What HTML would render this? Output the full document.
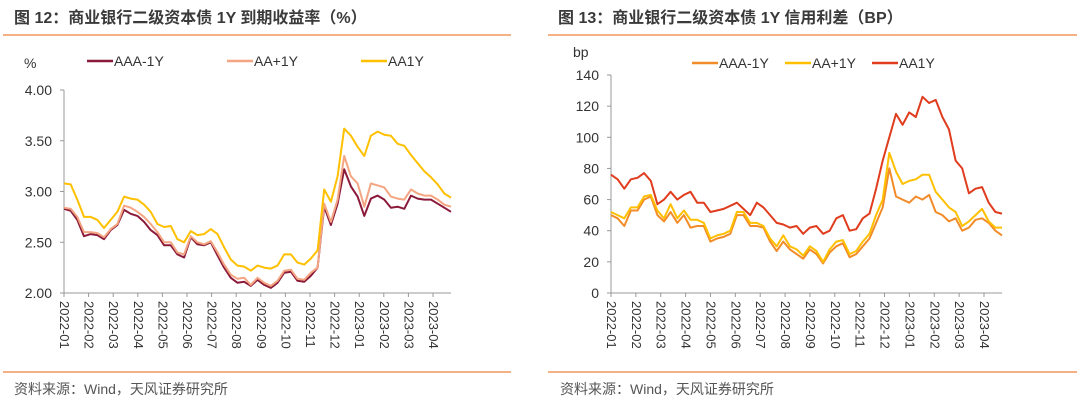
<!DOCTYPE html>
<html><head><meta charset="utf-8"><style>
html,body{margin:0;padding:0;background:#fff;}
body{width:1080px;height:407px;overflow:hidden;font-family:"Liberation Sans","Noto Sans CJK SC",sans-serif;}
svg text{font-family:"Liberation Sans","Noto Sans CJK SC",sans-serif;}
</style></head><body>
<svg id="s" width="1080" height="407" viewBox="0 0 1080 407" xmlns="http://www.w3.org/2000/svg">
<text x="14" y="23" font-size="16" font-weight="bold" fill="#3a3a3a">图 12：商业银行二级资本债 1Y 到期收益率（%）</text>
<text x="558" y="23" font-size="16" font-weight="bold" fill="#3a3a3a">图 13：商业银行二级资本债 1Y 信用利差（BP）</text>
<line x1="3" y1="35" x2="511" y2="35" stroke="#F4B183" stroke-width="2"/>
<line x1="548" y1="35" x2="1077" y2="35" stroke="#F4B183" stroke-width="2"/>
<line x1="3" y1="372" x2="511" y2="372" stroke="#F4B183" stroke-width="2"/>
<line x1="548" y1="372" x2="1077" y2="372" stroke="#F4B183" stroke-width="2"/>
<text x="14" y="394" font-size="14" fill="#555">资料来源：Wind，天风证券研究所</text>
<text x="560" y="394" font-size="14" fill="#555">资料来源：Wind，天风证券研究所</text>
</svg>
<script>
const months=["2022-01","2022-02","2022-03","2022-04","2022-05","2022-06","2022-07","2022-08","2022-09","2022-10","2022-11","2022-12","2023-01","2023-02","2023-03","2023-04"];
const leftTicks=["2.00","2.50","3.00","3.50","4.00"];
const leftTickVals=[2,2.5,3,3.5,4];
const rightTicks=["0","20","40","60","80","100","120","140"];
const rightTickVals=[0,20,40,60,80,100,120,140];
const yAAA=[2.83,2.81,2.72,2.56,2.58,2.57,2.53,2.62,2.67,2.82,2.78,2.76,2.70,2.62,2.57,2.47,2.47,2.38,2.35,2.55,2.48,2.47,2.50,2.37,2.25,2.15,2.10,2.11,2.07,2.13,2.08,2.05,2.10,2.20,2.21,2.12,2.11,2.17,2.25,2.85,2.67,2.88,3.22,3.05,2.95,2.76,2.93,2.96,2.92,2.84,2.85,2.83,2.96,2.93,2.92,2.92,2.88,2.84,2.80];
const yAAp=[2.84,2.83,2.75,2.60,2.60,2.59,2.55,2.63,2.68,2.86,2.84,2.80,2.75,2.68,2.60,2.50,2.50,2.40,2.38,2.56,2.50,2.48,2.51,2.40,2.28,2.18,2.14,2.15,2.08,2.15,2.10,2.07,2.12,2.22,2.23,2.14,2.13,2.20,2.25,2.88,2.70,2.92,3.35,3.15,3.08,2.85,3.08,3.06,3.04,2.95,2.93,2.92,3.02,2.98,2.96,2.96,2.92,2.87,2.85];
const yAA=[3.08,3.07,2.92,2.75,2.75,2.72,2.64,2.72,2.80,2.95,2.93,2.92,2.87,2.80,2.68,2.65,2.66,2.53,2.50,2.61,2.57,2.58,2.63,2.58,2.45,2.33,2.27,2.26,2.22,2.27,2.25,2.24,2.27,2.38,2.38,2.30,2.28,2.34,2.42,3.02,2.90,3.15,3.62,3.55,3.44,3.35,3.55,3.59,3.56,3.55,3.47,3.45,3.36,3.28,3.20,3.14,3.07,2.98,2.94];
const sAAA=[50,48,43,53,53,60,62,50,46,52,45,50,42,43,43,33,35,36,38,50,50,43,43,42,33,27,33,28,25,22,28,25,19,26,30,32,23,25,30,35,45,55,80,62,60,58,62,60,63,52,50,46,48,40,42,47,48,45,40,37];
const sAAp=[52,50,48,55,55,62,63,53,48,57,48,53,47,47,45,35,37,38,40,52,52,45,45,43,35,30,37,30,28,24,30,27,20,28,33,34,25,27,33,38,50,60,90,78,70,72,73,76,76,65,60,55,52,43,46,50,54,46,42,42];
const sAA=[76,73,67,73,74,77,72,57,60,65,60,63,65,58,58,52,53,54,56,58,54,50,58,55,50,45,44,42,43,38,42,43,38,40,48,50,40,41,48,51,67,85,100,115,108,116,113,126,122,124,113,105,85,80,64,67,68,58,52,51];
const svg=document.getElementById('s');
const NS="http://www.w3.org/2000/svg";
function mk(tag,attrs){const e=document.createElementNS(NS,tag);for(const k in attrs)e.setAttribute(k,attrs[k]);svg.appendChild(e);return e;}
function chart(cfg){
  const sy=v=>cfg.y0-(v-cfg.vmin)/(cfg.vmax-cfg.vmin)*(cfg.y0-cfg.y1);
  const ax=mk('line',{x1:cfg.x0,y1:cfg.y1,x2:cfg.x0,y2:cfg.y0,stroke:'#999','stroke-width':1});
  
  
  const bx=mk('line',{x1:cfg.x0,y1:cfg.y0,x2:cfg.xe,y2:cfg.y0,stroke:'#999','stroke-width':1});
  
  
  cfg.tv.forEach((v,i)=>{
    const y=sy(v);
    const tk=mk('line',{x1:cfg.x0-4,y1:y,x2:cfg.x0,y2:y,stroke:'#999'});
    
    
    const t=mk('text',{x:cfg.x0-12,y:y+5,'font-size':14,fill:'#333','text-anchor':'end'});
    t.textContent=cfg.tl[i];
    
    
  });
  const mw=(cfg.xm-cfg.x0)/(months.length-1);
  months.forEach((m,i)=>{
    const x=cfg.x0+i*mw;
    const tk=mk('line',{x1:x,y1:cfg.y0,x2:x,y2:cfg.y0+4,stroke:'#999'});
    
    
    const t=mk('text',{x:0,y:0,'font-size':13,fill:'#333',transform:'translate('+(x-4)+','+(cfg.y0+8)+') rotate(90)'});
    t.textContent=m;
    
    
  });
  cfg.series.forEach(s=>{
    const n=s.d.length;
    const pts=s.d.map((v,i)=>(cfg.x0+i*(cfg.xe-cfg.x0)/(n-1)).toFixed(1)+','+sy(v).toFixed(1)).join(' ');
    const pl=mk('polyline',{points:pts,fill:'none',stroke:s.c,'stroke-width':2,'stroke-linejoin':'round'});
    
    
    const ll=mk('line',{x1:s.lx,y1:cfg.ly,x2:s.lx+26,y2:cfg.ly,stroke:s.c,'stroke-width':2.5});
    
    
    const lt=mk('text',{x:s.lx+27,y:cfg.ly+5,'font-size':14,fill:'#333'});
    lt.textContent=s.name;
    
    
  });
  const u=mk('text',{x:cfg.ux,y:cfg.uy,'font-size':14,fill:'#333'});
  u.textContent=cfg.unit;
  
  
}
chart({p:'left',x0:64,xm:433,xe:451,y0:293,y1:90,vmin:2,vmax:4,tv:leftTickVals,tl:leftTicks,ly:61,unit:'%',ux:24,uy:68,
 series:[{id:'aaa',name:'AAA-1Y',d:yAAA,c:'#8B1A3A',lx:87},{id:'aa-plus',name:'AA+1Y',d:yAAp,c:'#F4A582',lx:227},{id:'aa',name:'AA1Y',d:yAA,c:'#FFC000',lx:361}]});
chart({p:'right',x0:611,xm:984,xe:1002,y0:293,y1:75,vmin:0,vmax:140,tv:rightTickVals,tl:rightTicks,ly:63,unit:'bp',ux:573,uy:57,
 series:[{id:'aaa',name:'AAA-1Y',d:sAAA,c:'#F28C28',lx:692},{id:'aa-plus',name:'AA+1Y',d:sAAp,c:'#FFC000',lx:785},{id:'aa',name:'AA1Y',d:sAA,c:'#E03C1E',lx:872}]});
</script>
</body></html>
